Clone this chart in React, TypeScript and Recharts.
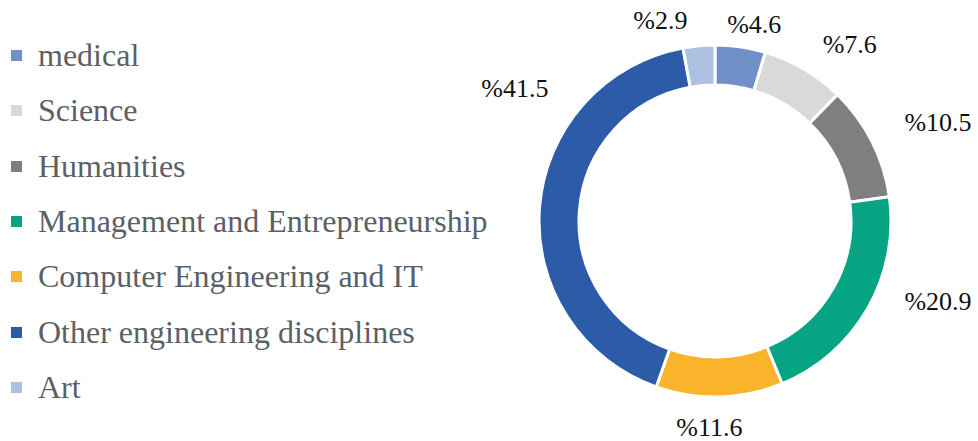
import React from "react";
import { Pie, PieChart } from "recharts";

const fields = [
  "medical",
  "Science",
  "Humanities",
  "Management and Entrepreneurship",
  "Computer Engineering and IT",
  "Other engineering disciplines",
  "Art",
];
const shares = [4.6, 7.6, 10.5, 20.9, 11.6, 41.5, 2.9];
const colors = ["#7090c7", "#d9d9d9", "#7f7f7f", "#06a482", "#f9b42c", "#2c5ba8", "#adc1e2"];

// hand-placed label spots, like the original: angle nudge (deg, clockwise) and distance past the ring
const labelNudge = [
  [3, 24],
  [7, 46],
  [3, 68],
  [-10, 61],
  [3, 31],
  [29, 64],
  [-10, 32],
];

const data = fields.map((name, i) => ({ name, value: shares[i], fill: colors[i] }));

const RAD = Math.PI / 180;
const serif = "'Liberation Serif', 'Times New Roman', serif";

const renderLabel = (props: any) => {
  const { cx, cy, midAngle, outerRadius, index } = props;
  const [turn, reach] = labelNudge[index];
  const angle = midAngle - turn;
  const r = outerRadius + reach;
  const x = cx + r * Math.cos(-angle * RAD);
  const y = cy + r * Math.sin(-angle * RAD);
  return (
    <text x={x} y={y} textAnchor="middle" dominantBaseline="central" fill="#111" fontSize={26} fontFamily={serif}>
      {"%" + shares[index].toFixed(1)}
    </text>
  );
};

const ChartLegend = () => (
  <ul style={{ position: "absolute", left: 0, top: 28, listStyle: "none", margin: 0, padding: 0 }}>
    {data.map((d) => (
      <li key={d.name} style={{ height: 55.3, display: "flex", alignItems: "center" }}>
        <span style={{ width: 11, height: 11, background: d.fill, marginLeft: 11, marginRight: 16, flex: "none" }} />
        <span style={{ fontFamily: serif, fontSize: 32, color: "#5b5f66", whiteSpace: "nowrap" }}>{d.name}</span>
      </li>
    ))}
  </ul>
);

export default function App() {
  return (
    <div style={{ position: "absolute", left: 0, top: 0, width: 978, height: 441, background: "#fff" }}>
      <PieChart width={978} height={441} margin={{ top: 0, right: 0, bottom: 0, left: 0 }}>
        <Pie
          data={data}
          dataKey="value"
          nameKey="name"
          cx={715}
          cy={221}
          innerRadius={136}
          outerRadius={176}
          startAngle={90}
          endAngle={-270}
          stroke="#fff"
          strokeWidth={3}
          label={renderLabel}
          labelLine={false}
          isAnimationActive={false}
        />
      </PieChart>
      <ChartLegend />
    </div>
  );
}
